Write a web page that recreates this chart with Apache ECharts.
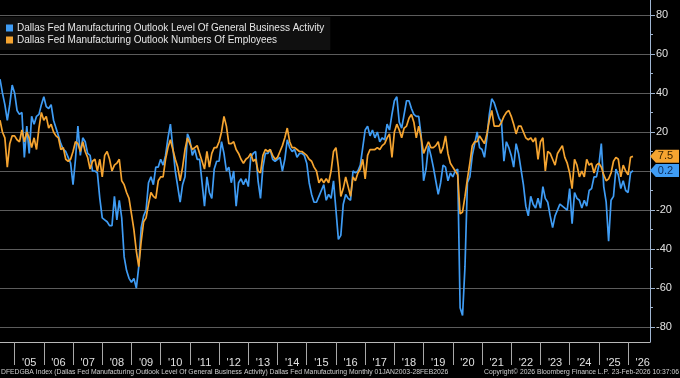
<!DOCTYPE html>
<html><head><meta charset="utf-8">
<script src="https://cdn.jsdelivr.net/npm/echarts@6/dist/echarts.min.js"></script>
<style>html,body{margin:0;padding:0;background:#000;}#chart{width:680px;height:378px;}</style>
</head><body><div id="chart"></div>
<script>
// ---- data ----
const seriesNames = [
  'Dallas Fed Manufacturing Outlook Level Of General Business Activity',
  'Dallas Fed Manufacturing Outlook Numbers Of Employees'
];
// axis runs from Jul-2004 to Oct-2026 (month starts); monthly values are plotted at month end
const axisStart = [2004, 7];
const axisEnd = [2026, 10];
const yTicks = [-80, -60, -40, -20, 0, 20, 40, 60, 80];
const yMinorTicks = [-70, -50, -30, -10, 10, 30, 50, 70];
// Jun-2004 .. Feb-2026
const activity = [
  47, 40, 34, 26, 34, 44, 40,                         // 2004 Jun-Dec
  31, 29, 30, 7, 23, 9, 28, 24, 28, 29, 34, 38,       // 2005
  33, 32, 34, 26, 22, 18, 14, 11, 10, 7, 4, -7,       // 2006
  6, 23, 8, 17, 15, 9, 8, 0, 0, -1, -14, -24,         // 2007
  -25, -26, -28, -28, -13, -25, -15, -24, -44, -51, -55, -57, // 2008
  -55, -60, -49, -29, -23, -20, -6, -3, -7, 2, 2, 6,  // 2009
  3, 8, 17, 24, 12, 0, -8, -16, -7, -3, 19, 16,       // 2010
  8, 11, 6, 6, -6, -18, -3, -11, -14, 1, 5, 5,        // 2011
  15, 9, 0, 2, -6, 0, -18, -6, -4, -7, -4, -8,        // 2012
  7, 9, 10, -5, -14, 2, 9, 9, 11, 6, 5, 6,            // 2013
  7, 0, 6, 16, 12, 10, 11, 7, 9, 9, 8, 4,             // 2014
  -6, -12, -16, -16, -13, -10, -7, -15, -12, -14, -5, -20, // 2015
  -35, -33, -17, -12, -14, -15, 0, -1, 0, 3, 12, 21,  // 2016
  23, 18, 21, 17, 20, 15, 17, 16, 24, 21, 29, 36,     // 2017
  38, 25, 22, 29, 36, 36, 32, 29, 28, 28, 18, -5,     // 2018
  1, 13, 8, 2, -5, -12, -6, 3, 2, -5, -1, -3,         // 2019
  0, 1, -70, -74, -49, -6, -3, 8, 14, 20, 12, 11,     // 2020
  7, 17, 29, 37, 35, 31, 27, 25, 5, 15, 12, 8,        // 2021
  2, 14, 9, 1, -7, -18, -23, -13, -17, -19, -14, -19, // 2022
  -8, -14, -16, -23, -29, -23, -20, -17, -18, -19, -20, -9, // 2023
  -27, -11, -14, -15, -19, -15, -18, -10, -9, -3, -3, 3,    // 2024
  14, -8, -16, -36, -15, -13, 1, -2, -9, -5, -10, -11,      // 2025
  -1, 0.2                                             // 2026
];
const employees = [
  26, 20, 17, 2, 14, 18, 18,                          // 2004 Jun-Dec
  16, 15, 21, 15, 20, 17, 12, 17, 11, 22, 30, 26,     // 2005
  28, 22, 24, 20, 18, 17, 11, 12, 6, 5, 6, 10,        // 2006
  15, 14, 10, 15, 10, 7, 1, 5, 6, 0, 6, -3,           // 2007
  8, 10, 6, 0, 3, 4, 6, -5, -7, -11, -14, -22,        // 2008
  -30, -41, -49, -36, -26, -24, -17, -11, -13, -14, -5, -3, // 2009
  -3, 6, 12, 16, 11, 6, 2, -5, 2, 11, 17, 14,         // 2010
  11, 12, 13, 9, 5, 1, 10, 2, 9, 12, 12, 15,          // 2011
  20, 28, 23, 14, 14, 15, 11, 9, 6, 4, 6, 7,          // 2012
  9, 5, 6, 0, -1, 8, 11, 10, 11, 8, 6, 7,             // 2013
  10, 13, 17, 22, 15, 12, 12, 11, 10, 10, 9, 8,       // 2014
  6, 5, 2, 0, -6, -4, -6, -4, -6, 0, 10, 12,          // 2015
  2, -13, -9, -3, -8, -13, -3, -5, -1, 1, 6, -4,      // 2016
  8, 11, 11, 11, 12, 11, 13, 14, 17, 19, 7, 20,       // 2017
  24, 21, 17, 22, 23, 27, 29, 25, 17, 23, 17, 9,      // 2018
  12, 15, 12, 12, 13, 15, 9, 12, 18, 9, 4, 2,         // 2019
  0, -2, -22, -21, -13, -4, 4, 13, 15, 15, 18, 16,    // 2020
  14, 19, 26, 31, 23, 23, 23, 25, 28, 30, 31, 28,     // 2021
  24, 19, 23, 23, 20, 17, 16, 17, 15, 17, 6, 15,      // 2022
  17, 0, 10, 9, 6, 3, 9, 11, 13, 7, 4, -1,            // 2023
  -9, 6, 3, -3, 0, -3, 6, 3, 4, -1, 3, 4,             // 2024
  2, -2, -5, -4, -1, 5, 7, 6, -3, 3, 0, -2,           // 2025
  7, 7.5                                              // 2026
];
const footerTexts = [
  'DFEDGBA Index (Dallas Fed Manufacturing Outlook Level Of General Business Activity) Dallas Fed Manufacturing Monthly 01JAN2003-28FEB2026',
  'Copyright\u00A9 2026 Bloomberg Finance L.P.',
  '23-Feb-2026 10:37:06'
];

// ---- build ----
const categories = [];
for (let y = axisStart[0], m = axisStart[1]; y < axisEnd[0] || (y === axisEnd[0] && m <= axisEnd[1]); ) {
  categories.push(y + '-' + String(m).padStart(2, '0'));
  m++; if (m > 12) { m = 1; y++; }
}
const BLUE = '#3f9cf4', ORANGE = '#f5a430';
const FONT = "'Liberation Sans',Arial,sans-serif";
const lastIdx = categories.length - 1;

function tagPoint(arr, color, txtColor) {
  const v = arr[arr.length - 1];
  return {
    silent: true, animation: false,
    symbol: 'path://M0,6 L6,0 L30,0 L30,12 L6,12 Z',
    symbolSize: [29, 13], symbolKeepAspect: false, symbolOffset: [14.5, 0],
    itemStyle: { color: color },
    label: { show: true, position: 'inside', color: txtColor, fontSize: 11, fontFamily: FONT, offset: [1, 0],
             formatter: p => String(p.value) },
    data: [{ coord: [lastIdx, v], value: v }]
  };
}

const chart = echarts.init(document.getElementById('chart'), null, { renderer: 'canvas' });
const footStyle = { fontSize: 6.8, color: '#cfcfcf', fontWeight: 'normal', fontFamily: FONT };
chart.setOption({
  backgroundColor: '#000',
  animation: false,
  title: [
    { text: footerTexts[0], left: 1, top: 369, padding: 0, textStyle: footStyle },
    { text: footerTexts[1], left: 484, top: 369, padding: 0, textStyle: footStyle },
    { text: footerTexts[2], right: 1, top: 369, padding: 0, textStyle: footStyle }
  ],
  legend: {
    orient: 'vertical', left: 0, top: 17, padding: [6, 6, 5, 6], itemGap: 2,
    backgroundColor: '#101010', icon: 'rect', itemWidth: 7, itemHeight: 7,
    textStyle: { color: '#e6e6e6', fontSize: 10, fontFamily: FONT, padding: [0, 0, 0, -1] },
    data: seriesNames
  },
  grid: { left: 0, right: 30, top: 0, bottom: 36, containLabel: false },
  xAxis: {
    type: 'category', data: categories, boundaryGap: false,
    axisLine: { show: true, onZero: false, lineStyle: { color: '#b8b8b8', width: 1 } },
    axisTick: { show: true, length: 23, interval: (i, v) => v.endsWith('-01'), lineStyle: { color: '#a8a8a8' } },
    axisLabel: { interval: (i, v) => v.endsWith('-07') && !v.startsWith('2004'), formatter: v => "'" + v.slice(2, 4),
                 color: '#e0e0e0', fontSize: 11, fontFamily: FONT, margin: 15 },
    splitLine: { show: false }
  },
  yAxis: [{
    type: 'value', position: 'right', min: -87.6, max: 87.6,
    axisLine: { show: true, lineStyle: { color: '#9fb5d2', width: 1 } },
    axisTick: { show: true, customValues: yTicks, length: 5, lineStyle: { color: '#9fb5d2' } },
    axisLabel: { customValues: yTicks, color: '#e0e0e0', fontSize: 11, fontFamily: FONT, margin: 6 },
    splitLine: { show: true, lineStyle: { color: '#5c5c5c', width: 1 } }
  }, {
    type: 'value', position: 'right', min: -87.6, max: 87.6,
    axisLine: { show: false },
    axisTick: { show: true, customValues: yMinorTicks, length: 3, lineStyle: { color: '#9fb5d2' } },
    axisLabel: { show: false },
    splitLine: { show: false }
  }],
  series: [
    { type: 'line', name: seriesNames[0], data: activity, yAxisIndex: 0, symbol: 'none', showSymbol: false,
      lineStyle: { color: BLUE, width: 1.7 }, itemStyle: { color: BLUE },
      markPoint: tagPoint(activity, BLUE, '#0d2b57') },
    { type: 'line', name: seriesNames[1], data: employees, yAxisIndex: 0, symbol: 'none', showSymbol: false,
      lineStyle: { color: ORANGE, width: 1.7 }, itemStyle: { color: ORANGE },
      markPoint: tagPoint(employees, ORANGE, '#3a2400') }
  ]
});
</script>
</body></html>
